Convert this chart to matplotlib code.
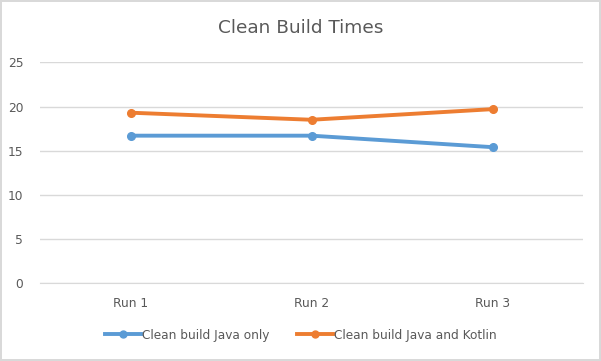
import matplotlib.pyplot as plt
from matplotlib.lines import Line2D

runs = ["Run 1", "Run 2", "Run 3"]
java_only = [16.7, 16.7, 15.4]
java_kotlin = [19.3, 18.5, 19.7]
y_ticks = [0, 5, 10, 15, 20, 25]

blue = "#5b9bd5"
orange = "#ed7d31"
text_gray = "#595959"

fig = plt.figure(figsize=(6.01, 3.61), dpi=100)
fig.patch.set_edgecolor("#d9d9d9")
fig.patch.set_linewidth(1.5)
ax = fig.add_axes([40 / 601, 1 - 283.3 / 361, 543 / 601, 221 / 361])

x = range(len(runs))
ax.plot(x, java_only, color=blue, lw=2.8, marker="o", ms=5.5, solid_capstyle="round")
ax.plot(x, java_kotlin, color=orange, lw=2.8, marker="o", ms=5.5, solid_capstyle="round")

ax.set_xlim(-0.5, len(runs) - 0.5)
ax.set_ylim(0, 25)
ax.set_yticks(y_ticks)
ax.set_xticks(list(x))
ax.set_xticklabels(runs)
ax.grid(axis="y", color="#d9d9d9", lw=1)
ax.set_axisbelow(True)
for s in ax.spines.values():
    s.set_visible(False)
ax.spines["bottom"].set_visible(True)
ax.spines["bottom"].set_color("#d9d9d9")
ax.tick_params(length=0, colors=text_gray, labelsize=8.8)
ax.tick_params(axis="y", pad=12)
ax.tick_params(axis="x", pad=10)

fig.text(0.5, 1 - 28 / 361, "Clean Build Times", ha="center", va="center",
         fontsize=13.3, color=text_gray)

handles = [Line2D([], [], color=blue, lw=2.8, marker="o", ms=5),
           Line2D([], [], color=orange, lw=2.8, marker="o", ms=5)]
fig.legend(handles, ["Clean build Java only", "Clean build Java and Kotlin"],
           loc="center", bbox_to_anchor=(0.5, 1 - 335 / 361), ncol=2,
           frameon=False, fontsize=8.7, labelcolor=text_gray,
           handlelength=3.0, handletextpad=0.05, columnspacing=2.3)

fig.savefig("out.png", dpi=100)
